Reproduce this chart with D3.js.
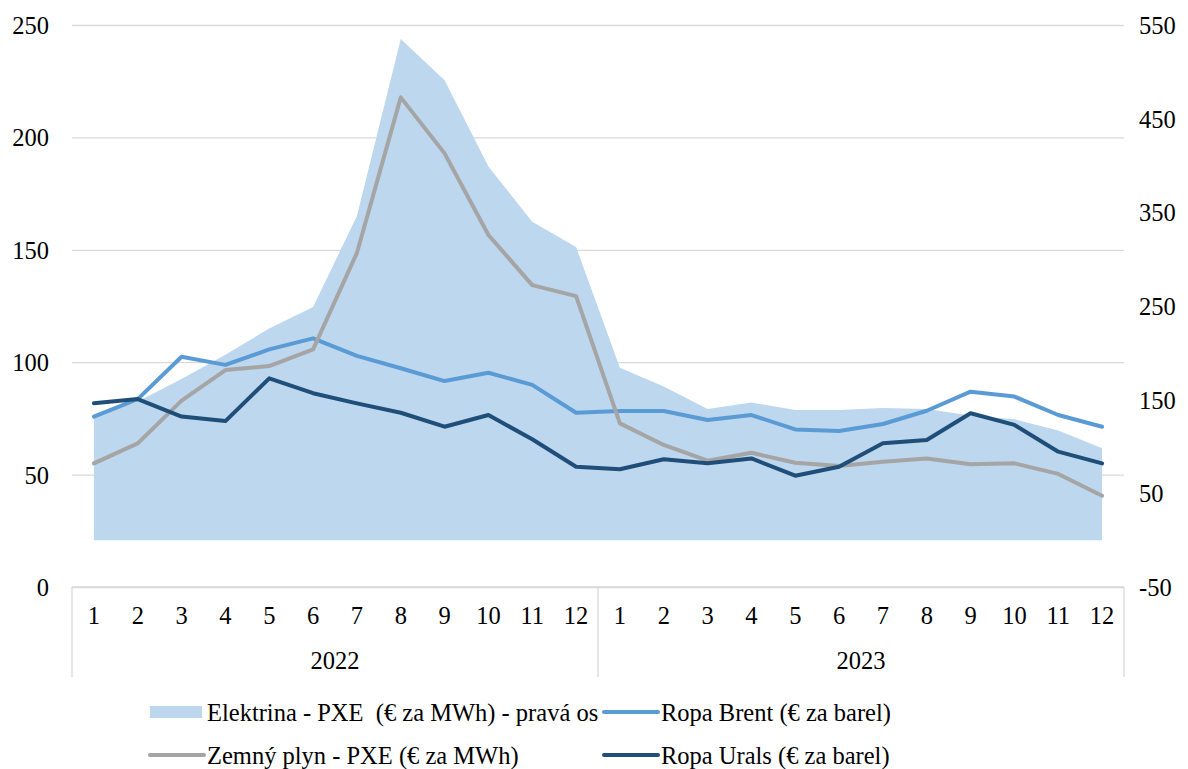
<!DOCTYPE html>
<html lang="sk">
<head>
<meta charset="UTF-8">
<title>Ceny energií</title>
<script src="https://cdn.jsdelivr.net/npm/d3@7"></script>
<style>
  body { margin:0; background:#fff; }
  svg text { font-family: "Liberation Serif", "DejaVu Serif", serif; fill:#000; white-space: pre; }
</style>
</head>
<body>
<div id="chart"></div>
<script>
// údaje odčítané z grafu
const years = ["2022", "2023"];
const months = ["1","2","3","4","5","6","7","8","9","10","11","12"];

const elektrina = [131, 148, 172, 198, 226, 249, 346, 535, 491, 399, 340, 313,
                   184, 164, 140, 147, 139, 139, 141, 140, 133, 129, 117, 98];
const brent = [75.8, 83.6, 102.4, 98.8, 105.7, 110.6, 102.8, 97.3, 91.6, 95.3, 89.9, 77.5,
               78.3, 78.3, 74.3, 76.5, 70.1, 69.4, 72.5, 78.4, 86.9, 84.7, 76.5, 71.3];
const plyn = [55.0, 63.9, 82.9, 96.5, 98.3, 105.7, 148.6, 217.8, 192.9, 156.6, 134.3, 129.4,
              72.8, 63.2, 56.2, 59.7, 55.3, 53.8, 55.7, 57.2, 54.6, 55.0, 50.3, 40.6];
const urals = [81.7, 83.6, 75.8, 73.8, 92.8, 86.2, 81.7, 77.5, 71.3, 76.5, 65.7, 53.5,
               52.4, 56.8, 55.0, 57.2, 49.5, 53.5, 63.9, 65.4, 77.3, 72.1, 60.2, 55.0];

const leftTicks = [0, 50, 100, 150, 200, 250];
const rightTicks = [-50, 50, 150, 250, 350, 450, 550];

const W = 1188, H = 769;
const plotL = 72, plotR = 1124, plotT = 25, plotB = 587;
const fs = "24.5px";

const svg = d3.select("#chart").append("svg")
    .attr("width", W).attr("height", H);

// kategórie: rok + mesiac
const cats = [];
years.forEach(y => months.forEach(m => cats.push(y + "-" + m)));

const x = d3.scaleBand().domain(cats).range([plotL, plotR]).padding(0);
const cx = i => x(cats[i]) + x.bandwidth() / 2;
const xYear = d3.scaleBand().domain(years).range([plotL, plotR]).padding(0);

const yL = d3.scaleLinear().domain([0, 250]).range([plotB, plotT]);
const yR = d3.scaleLinear().domain([-50, 550]).range([plotB, plotT]);

// mriežka
const grid = svg.append("g")
    .attr("transform", "translate(" + plotL + ",0)")
    .call(d3.axisLeft(yL).tickValues(leftTicks).tickSize(-(plotR - plotL)).tickFormat(""));
grid.select(".domain").remove();
grid.selectAll("line").attr("stroke", "#d9d9d9").attr("stroke-width", 1.3);

// ľavá os
const axL = svg.append("g")
    .attr("transform", "translate(49,0)")
    .call(d3.axisLeft(yL).tickValues(leftTicks).tickSize(0).tickPadding(0));
axL.select(".domain").remove();
axL.selectAll("text").style("font-size", fs).attr("dy", "0.35em");

// pravá os (spojovník namiesto mínusu ako v origináli)
const axR = svg.append("g")
    .attr("transform", "translate(1139,0)")
    .call(d3.axisRight(yR).tickValues(rightTicks).tickSize(0).tickPadding(0)
          .tickFormat(d => String(d)));
axR.select(".domain").remove();
axR.selectAll("text").style("font-size", fs).attr("dy", "0.35em");

// plocha - elektrina
const area = d3.area()
    .x((d, i) => cx(i))
    .y0(yR(0))
    .y1(d => yR(d));
svg.append("path").datum(elektrina)
    .attr("d", area)
    .attr("fill", "#bdd7ee");

// čiary
const lineL = d3.line().x((d, i) => cx(i)).y(d => yL(d));
const series = [
  { data: brent, color: "#5b9bd5" },
  { data: plyn, color: "#a5a5a5" },
  { data: urals, color: "#1f4e79" }
];
series.forEach(s => {
  svg.append("path").datum(s.data)
    .attr("d", lineL)
    .attr("fill", "none")
    .attr("stroke", s.color)
    .attr("stroke-width", 4)
    .attr("stroke-linejoin", "round")
    .attr("stroke-linecap", "round");
});

// kategóriová os
svg.append("line")
    .attr("x1", plotL).attr("x2", plotR)
    .attr("y1", plotB).attr("y2", plotB)
    .attr("stroke", "#d9d9d9").attr("stroke-width", 1.3);

const axX = svg.append("g")
    .attr("transform", "translate(0," + plotB + ")")
    .call(d3.axisBottom(x).tickSize(0).tickPadding(20)
          .tickFormat(d => d.split("-")[1]));
axX.select(".domain").remove();
axX.selectAll("text").style("font-size", fs);

const axY = svg.append("g")
    .attr("transform", "translate(0," + plotB + ")")
    .call(d3.axisBottom(xYear).tickSize(0).tickPadding(65));
axY.select(".domain").remove();
axY.selectAll("text").style("font-size", fs);

// oddeľovače rokov
const seps = [plotL].concat(years.map(y => xYear(y) + xYear.bandwidth()));
svg.selectAll(".sep").data(seps).enter().append("line")
    .attr("class", "sep")
    .attr("x1", d => d).attr("x2", d => d)
    .attr("y1", plotB).attr("y2", 677)
    .attr("stroke", "#d9d9d9").attr("stroke-width", 1.3);

// legenda
const legend = [
  { name: "Elektrina - PXE  (€ za MWh) - pravá os", color: "#bdd7ee", type: "area", x: 150, y: 712 },
  { name: "Ropa Brent (€ za barel)", color: "#5b9bd5", type: "line", x: 604, y: 712 },
  { name: "Zemný plyn - PXE (€ za MWh)", color: "#a5a5a5", type: "line", x: 150, y: 755 },
  { name: "Ropa Urals (€ za barel)", color: "#1f4e79", type: "line", x: 604, y: 755 }
];
const lg = svg.selectAll(".lg").data(legend).enter().append("g")
    .attr("class", "lg")
    .attr("transform", d => "translate(" + d.x + "," + d.y + ")");
lg.filter(d => d.type === "area").append("rect")
    .attr("x", 0).attr("y", -6).attr("width", 52).attr("height", 12)
    .attr("fill", d => d.color);
lg.filter(d => d.type === "line").append("line")
    .attr("x1", 0).attr("x2", 54).attr("y1", 0).attr("y2", 0)
    .attr("stroke", d => d.color).attr("stroke-width", 4)
    .attr("stroke-linecap", "round");
lg.append("text")
    .attr("x", 57).attr("dy", "0.35em")
    .style("font-size", fs)
    .text(d => d.name);
</script>
</body>
</html>
